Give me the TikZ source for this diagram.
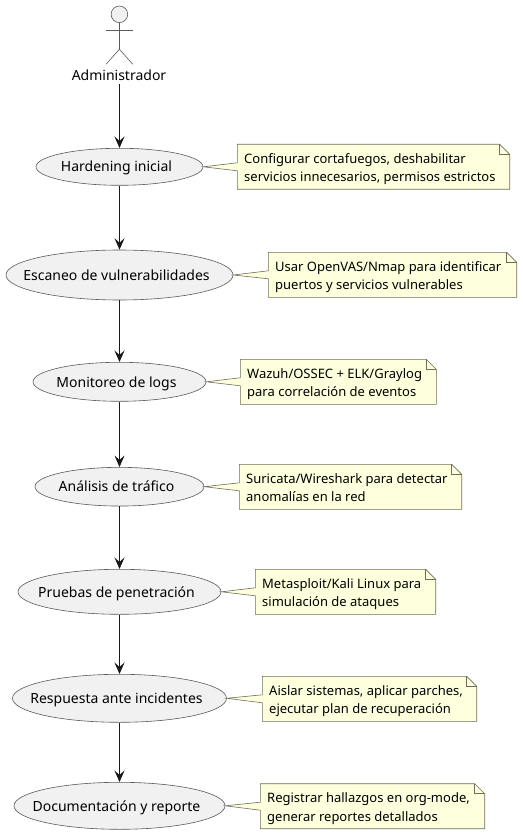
\documentclass[tikz,border=0pt]{standalone}
\usepackage{fontspec}
\setmainfont{Noto Sans}
\usetikzlibrary{arrows.meta,shapes.geometric,calc}
\definecolor{noteFill}{HTML}{FEFFDD}
\definecolor{noteLine}{HTML}{6E6E5A}
\definecolor{usecaseFill}{HTML}{F1F1F1}
\definecolor{usecaseLine}{HTML}{5A5A5A}
\definecolor{inkText}{HTML}{000000}
\definecolor{flowLine}{HTML}{181818}
\tikzset{
  x=1pt,y=-1pt,
  usecase/.style={ellipse,draw=usecaseLine,fill=usecaseFill,line width=0.6pt,inner sep=0pt},
  ucaselabel/.style={inner sep=0pt,anchor=base,font=\fontsize{14}{16}\selectfont,text=inkText},
  notebox/.style={draw=none,inner sep=0pt,anchor=north west,font=\fontsize{13}{18.3}\selectfont,align=left,text=inkText},
  flow/.style={draw=flowLine,line width=0.8pt,-{Stealth[length=11.5pt,width=10pt,inset=4.5pt]}},
  noteshape/.style={draw=noteLine,fill=noteFill,line width=0.6pt,line join=miter},
  actorline/.style={draw=usecaseLine,line width=0.6pt},
}
% #1 name, #2 ellipse name, #3 left, #4 top, #5 right, #6 bottom, #7 text
\newcommand{\mynote}[7]{%
  \path[noteshape] (#3,#4) -- (#5-10,#4) -- (#5,#4+10) -- (#5,#6) -- (#3,#6)
     -- (#3,{(#4+#6)/2+4}) -- (#2.east) -- (#3,{(#4+#6)/2-4}) -- cycle;
  \path[noteshape,fill=none] (#5-10,#4) -- (#5-10,#4+10) -- (#5,#4+10);
  \node[notebox] (#1) at (#3+6.7,#4+5) {\rule{0pt}{14pt}#7\rule[-5pt]{0pt}{5pt}};
}
% #1 name, #2 y, #3 width, #4 height, #5 text
\newcommand{\mycase}[5]{%
  \node[usecase,minimum width=#3pt,minimum height=#4pt] (#1) at (119.5,#2) {};
  \node[ucaselabel] (#1t) at (116.5,#2+5.2) {#5};
}
\begin{document}
\begin{tikzpicture}
\useasboundingbox (0,0) rectangle (522,834);
% actor
\node[circle,draw=usecaseLine,fill=usecaseFill,line width=0.6pt,minimum size=16.6pt,inner sep=0pt] (head) at (119.4,14.3) {};
\coordinate (hip) at (119.4,49.3);
\coordinate (armL) at (106,30.3);
\coordinate (armR) at (132.8,30.3);
\coordinate (legL) at (106,64.3);
\coordinate (legR) at (132.8,64.3);
\draw[actorline] (head.south) -- (hip);
\draw[actorline] (armL) -- (armR);
\draw[actorline] (legL) -- (hip) -- (legR);
\node[font=\fontsize{14}{16}\selectfont,inner sep=0pt,anchor=base,text=inkText] (admin) at (119,80.3) {Administrador};
% use cases
\mycase{u1}{166.8}{167}{37}{Hardening inicial}
\mycase{u2}{275}{227}{50}{Escaneo de vulnerabilidades}
\mycase{u3}{381.8}{173}{39}{Monitoreo de logs}
\mycase{u4}{486.7}{169}{38.7}{Análisis de tráfico}
\mycase{u5}{591.8}{203}{45}{Pruebas de penetración}
\mycase{u6}{698.3}{214}{48}{Respuesta ante incidentes}
\mycase{u7}{805.8}{211}{47}{Documentación y reporte}
% flow
\coordinate (adminfoot) at (119.5,84);
\draw[flow] (adminfoot) -- (u1.north);
\draw[flow] (u1) -- (u2);
\draw[flow] (u2) -- (u3);
\draw[flow] (u3) -- (u4);
\draw[flow] (u4) -- (u5);
\draw[flow] (u5) -- (u6);
\draw[flow] (u6) -- (u7);
% notes
\mynote{n1}{u1}{237.3}{144.3}{509.7}{189.3}{Configurar cortafuegos, deshabilitar\\servicios innecesarios, permisos estrictos}
\mynote{n2}{u2}{268.3}{252.3}{516.7}{297.3}{Usar OpenVAS/Nmap para identificar\\puertos y servicios vulnerables}
\mynote{n3}{u3}{240.3}{359.3}{436.3}{404.3}{Wazuh/OSSEC + ELK/Graylog\\para correlación de eventos}
\mynote{n4}{u4}{239.3}{464.3}{461.7}{509.3}{Suricata/Wireshark para detectar\\anomalías en la red}
\mynote{n5}{u5}{255.3}{569.3}{435.7}{614.3}{Metasploit/Kali Linux para\\simulación de ataques}
\mynote{n6}{u6}{262.3}{676.3}{476.7}{721.3}{Aislar sistemas, aplicar parches,\\ejecutar plan de recuperación}
\mynote{n7}{u7}{260.3}{783.7}{484.7}{828.7}{Registrar hallazgos en org-mode,\\generar reportes detallados}
\end{tikzpicture}
\end{document}
